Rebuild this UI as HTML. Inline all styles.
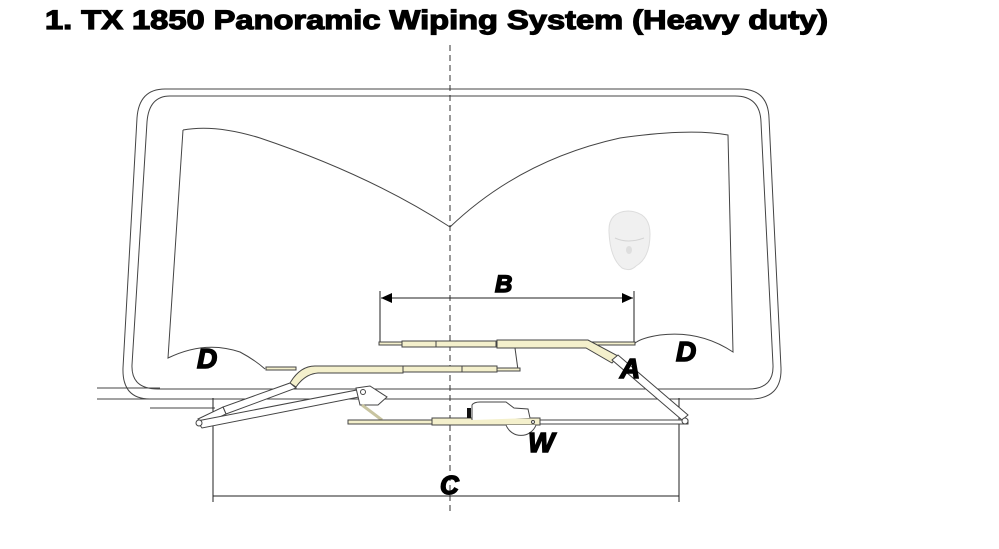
<!DOCTYPE html>
<html><head><meta charset="utf-8"><style>
html,body{margin:0;padding:0;background:#fff;}
svg{display:block;}
</style></head><body>
<svg width="999" height="549" viewBox="0 0 999 549" xmlns="http://www.w3.org/2000/svg">
<text x="45" y="29" font-family="Liberation Sans, sans-serif" font-weight="bold" font-size="27" textLength="783" lengthAdjust="spacingAndGlyphs" fill="#000" stroke="#000" stroke-width="1.2">1. TX 1850  Panoramic Wiping System  (Heavy duty)</text>

<g fill="none" stroke="#444" stroke-width="1">
<path d="M165 89 L740 89 Q768 89 769 118 L781 368 Q782 399 750 399 L150 399 Q122 399 123 368 L137 118 Q139 89 165 89 Z"/>
<path d="M170 96 L735 96 Q760 96 761 122 L773 365 Q774 389 748 389 L158 389 Q131 389 132 365 L147 122 Q149 96 170 96 Z"/>
<line x1="97" y1="388" x2="160" y2="388"/>
<line x1="97" y1="399" x2="160" y2="399"/>
<line x1="150" y1="408" x2="215" y2="408"/>
<path d="M183 130 Q215 124 260 138 Q370 175 450 227 Q520 160 620 138 Q690 128 728 135 L733 352 Q700 330 660 335 Q640 338 634 344"/>
<path d="M183 130 L168 358 Q205 340 240 352 Q255 360 265 369"/>
</g>

<line x1="450" y1="45" x2="450" y2="512" stroke="#333" stroke-width="1" stroke-dasharray="6,4"/>

<!-- face -->
<path d="M609 232 Q608 212 628 211 Q650 212 650 234 Q650 258 636 266 Q630 272 622 268 Q610 258 609 232 Z" fill="#f0f0f0" stroke="#ddd"/>
<path d="M615 238 Q628 244 644 238" stroke="#d4d4d4" fill="none"/>
<ellipse cx="629" cy="250" rx="3" ry="4" fill="#dedede"/>

<g stroke="#222" stroke-width="1" fill="none">
<line x1="381" y1="298" x2="633" y2="298"/>
<line x1="380" y1="291" x2="380" y2="344"/>
<line x1="634" y1="291" x2="634" y2="344"/>
</g>
<polygon points="381,298 392,293 392,303" fill="#000"/>
<polygon points="633,298 622,293 622,303" fill="#000"/>

<g stroke="#222" stroke-width="1" fill="none">
<line x1="213" y1="496" x2="679" y2="496"/>
<line x1="213" y1="398" x2="213" y2="502"/>
<line x1="679" y1="398" x2="679" y2="502"/>
</g>

<g stroke="#444" stroke-width="1" fill="#f4f0cc">
<rect x="379" y="342" width="256" height="3"/>
<rect x="402" y="341" width="95" height="6"/>
<rect x="436" y="341" width="60" height="6"/>
<path d="M497 340 L588 340 L618 356 L612 363 L586 348 L497 348 Z"/>
<path d="M612 360 L618 355 L688 415 L682 420 Z" fill="#fff"/>
<line x1="515" y1="348" x2="518" y2="370"/>
<rect x="266" y="367" width="30" height="3"/>
<path d="M290 383 Q300 366 315 366 L403 366 L403 373 L318 373 Q305 374 296 387 Z"/>
<rect x="403" y="366" width="94" height="6"/>
<rect x="462" y="366" width="35" height="6"/>
<rect x="497" y="368" width="23" height="3"/>
<path d="M290 383 L296 388 L226 414 L223 407 Z" fill="#fff"/>
<path d="M223 407 L226 414 L205 424 L198 419 Z" fill="#fff"/>
<path d="M197 421 L362 389 L364 396 L202 428 Z" fill="#fff"/>
<path d="M356 388 L370 386 L387 397 L378 405 L360 405 Z" fill="#fff"/>
<line x1="362" y1="405" x2="382" y2="420" stroke-width="3" stroke="#c8c4a0"/>
<rect x="348" y="420" width="340" height="4" fill="#fff"/>
<rect x="348" y="420" width="84" height="4"/>
<rect x="432" y="418" width="108" height="7"/>
</g>
<g fill="#fff" stroke="#444" stroke-width="1">
<circle cx="199" cy="423" r="3"/>
<circle cx="363" cy="392" r="2.5"/>
<circle cx="685" cy="421" r="3"/>
<circle cx="533" cy="422" r="1.5"/>
<path d="M506 425 A16 16 0 0 0 536 425"/>
<path d="M472 420 L472 405 Q474 402 480 402 L506 402 L514 408 L528 409 L530 418"/>
</g>
<rect x="467" y="408" width="4" height="10" fill="#111"/>

<g font-family="Liberation Sans, sans-serif" font-weight="bold" font-style="italic" fill="#000" stroke="#000" stroke-width="1.5">
<text x="495" y="292" font-size="24">B</text>
<text x="197" y="368" font-size="28">D</text>
<text x="620" y="378" font-size="28">A</text>
<text x="676" y="361" font-size="28">D</text>
<text x="528" y="452" font-size="28">W</text>
<text x="440" y="494" font-size="26">C</text>
</g>
</svg>
</body></html>
